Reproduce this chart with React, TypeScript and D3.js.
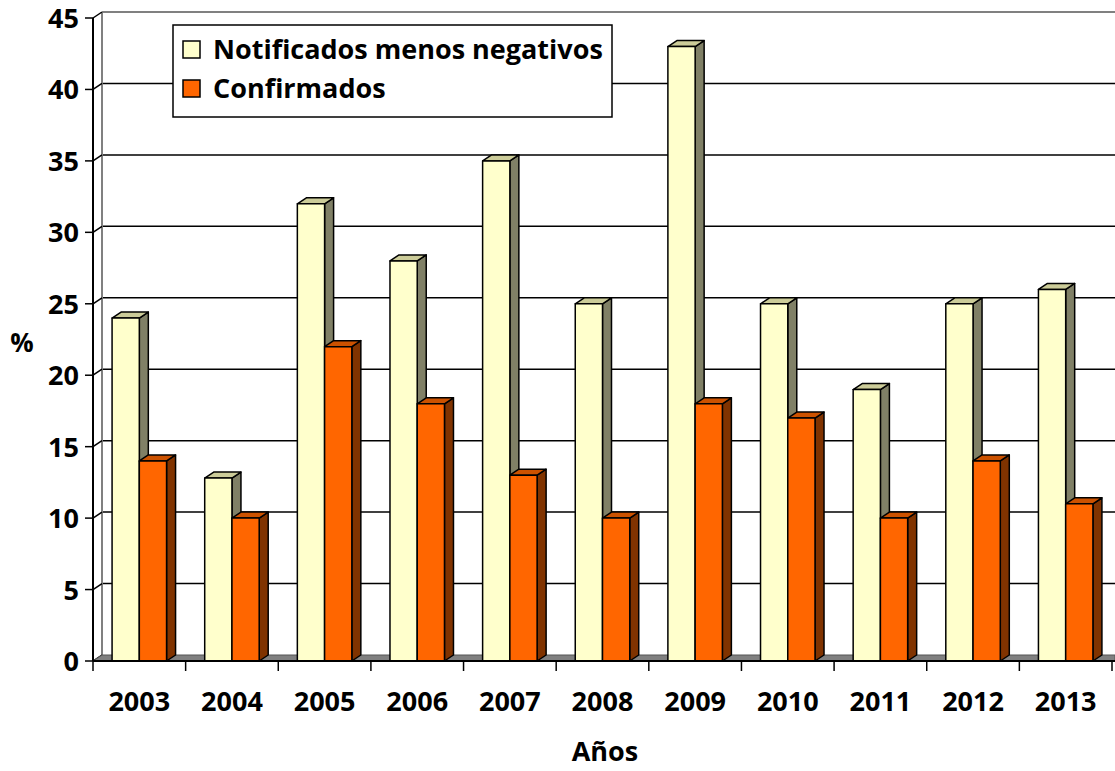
import React from 'react';
import * as d3 from 'd3';

const years = ['2003', '2004', '2005', '2006', '2007', '2008', '2009', '2010', '2011', '2012', '2013'];
const notificados = [24, 12.8, 32, 28, 35, 25, 43, 25, 19, 25, 26];
const confirmados = [14, 10, 22, 18, 13, 10, 18, 17, 10, 14, 11];
const seriesNames = ['Notificados menos negativos', 'Confirmados'];
const yTicks = [0, 5, 10, 15, 20, 25, 30, 35, 40, 45];

// front, top, side colours for each series
const colors = [
  { front: '#FFFFCC', top: '#CCCC99', side: '#808066' },
  { front: '#FF6600', top: '#CC5200', side: '#803300' },
];

const W = 1115;
const H = 771;
const dx = 9;
const dy = -6;
const font = '"Open Sans", Lato, sans-serif';

const App = () => {
  const y = d3.scaleLinear().domain([0, 45]).range([661, 18]);
  const x = d3.scaleBand().domain(years).range([93, 1112]).padding(0);
  const xs = d3.scaleBand().domain(['0', '1']).range([0, x.bandwidth()]).paddingInner(0).paddingOuter(0.7);
  const bw = xs.bandwidth();
  const values = [notificados, confirmados];

  const x0 = 93;
  const xRight = W;

  const bar = (v: number, bx: number, c: { front: string; top: string; side: string }, key: string) => {
    const yt = y(v);
    const yb = y(0);
    const front = `M${bx},${yt}H${bx + bw}V${yb}H${bx}Z`;
    const top = `M${bx},${yt}L${bx + dx},${yt + dy}H${bx + bw + dx}L${bx + bw},${yt}Z`;
    const side = `M${bx + bw},${yt}L${bx + bw + dx},${yt + dy}V${yb + dy}L${bx + bw},${yb}Z`;
    return (
      <g key={key} stroke="#000" strokeWidth={1.5} strokeLinejoin="round">
        <path d={side} fill={c.side} />
        <path d={top} fill={c.top} />
        <path d={front} fill={c.front} />
      </g>
    );
  };

  return (
    <div style={{ position: 'absolute', left: 0, top: 0 }}>
      <svg width={W} height={H} style={{ display: 'block', background: '#fff' }} fontFamily={font} fontWeight="bold">
        {/* back wall gridlines */}
        {yTicks.filter(t => t > 0).map(t => (
          <line key={'g' + t} x1={x0 + dx} x2={xRight} y1={y(t) + dy} y2={y(t) + dy}
            stroke={t === 45 ? '#808080' : '#000'} strokeWidth={t === 45 ? 2 : 1.5} />
        ))}
        {/* left wall edge */}
        <line x1={x0 + dx} x2={x0 + dx} y1={y(45) + dy} y2={y(0) + dy} stroke="#808080" strokeWidth={2} />
        {/* left wall diagonals */}
        {yTicks.map(t => (
          <line key={'d' + t} x1={x0} y1={y(t)} x2={x0 + dx} y2={y(t) + dy} stroke="#000" strokeWidth={1.5} />
        ))}
        {/* floor */}
        <path d={`M${x0},${y(0)}L${x0 + dx},${y(0) + dy}H${xRight}V${y(0)}Z`} fill="#808080" stroke="#555" strokeWidth={1} />

        {/* bars */}
        {years.map((yr, i) => (
          <g key={yr}>
            {values.map((vals, s) => bar(vals[i], (x(yr) as number) + (xs(String(s)) as number), colors[s], yr + s))}
          </g>
        ))}

        {/* axes */}
        <line x1={x0} x2={x0} y1={y(45)} y2={y(0)} stroke="#000" strokeWidth={2} />
        <line x1={x0} x2={xRight} y1={y(0)} y2={y(0)} stroke="#000" strokeWidth={2} />
        {yTicks.map(t => (
          <g key={'t' + t}>
            <line x1={x0 - 8} x2={x0} y1={y(t)} y2={y(t)} stroke="#000" strokeWidth={1.5} />
            <text x={79} y={y(t) + 10} textAnchor="end" fontSize={27} fill="#000">{t}</text>
          </g>
        ))}
        {years.map(yr => (
          <line key={'xt' + yr} x1={(x(yr) as number)} x2={(x(yr) as number)} y1={y(0)} y2={y(0) + 10} stroke="#000" strokeWidth={1.5} />
        ))}
        <line x1={1112} x2={1112} y1={y(0)} y2={y(0) + 10} stroke="#000" strokeWidth={1.5} />
        {years.map(yr => (
          <text key={'xl' + yr} x={(x(yr) as number) + x.bandwidth() / 2} y={711} textAnchor="middle" fontSize={27} fill="#000">{yr}</text>
        ))}

        {/* axis titles */}
        <text x={22} y={352} textAnchor="middle" fontSize={26} fill="#000">%</text>
        <text x={605} y={761} textAnchor="middle" fontSize={27} fill="#000">Años</text>

        {/* legend */}
        <rect x={173} y={25} width={439} height={92} fill="#fff" stroke="#000" strokeWidth={1.5} />
        {seriesNames.map((n, s) => (
          <g key={n}>
            <rect x={183} y={41 + s * 39} width={17} height={17} fill={colors[s].front} stroke="#000" strokeWidth={1.5} />
            <text x={213} y={59 + s * 39} fontSize={27} fill="#000">{n}</text>
          </g>
        ))}
      </svg>
    </div>
  );
};

export default App;
